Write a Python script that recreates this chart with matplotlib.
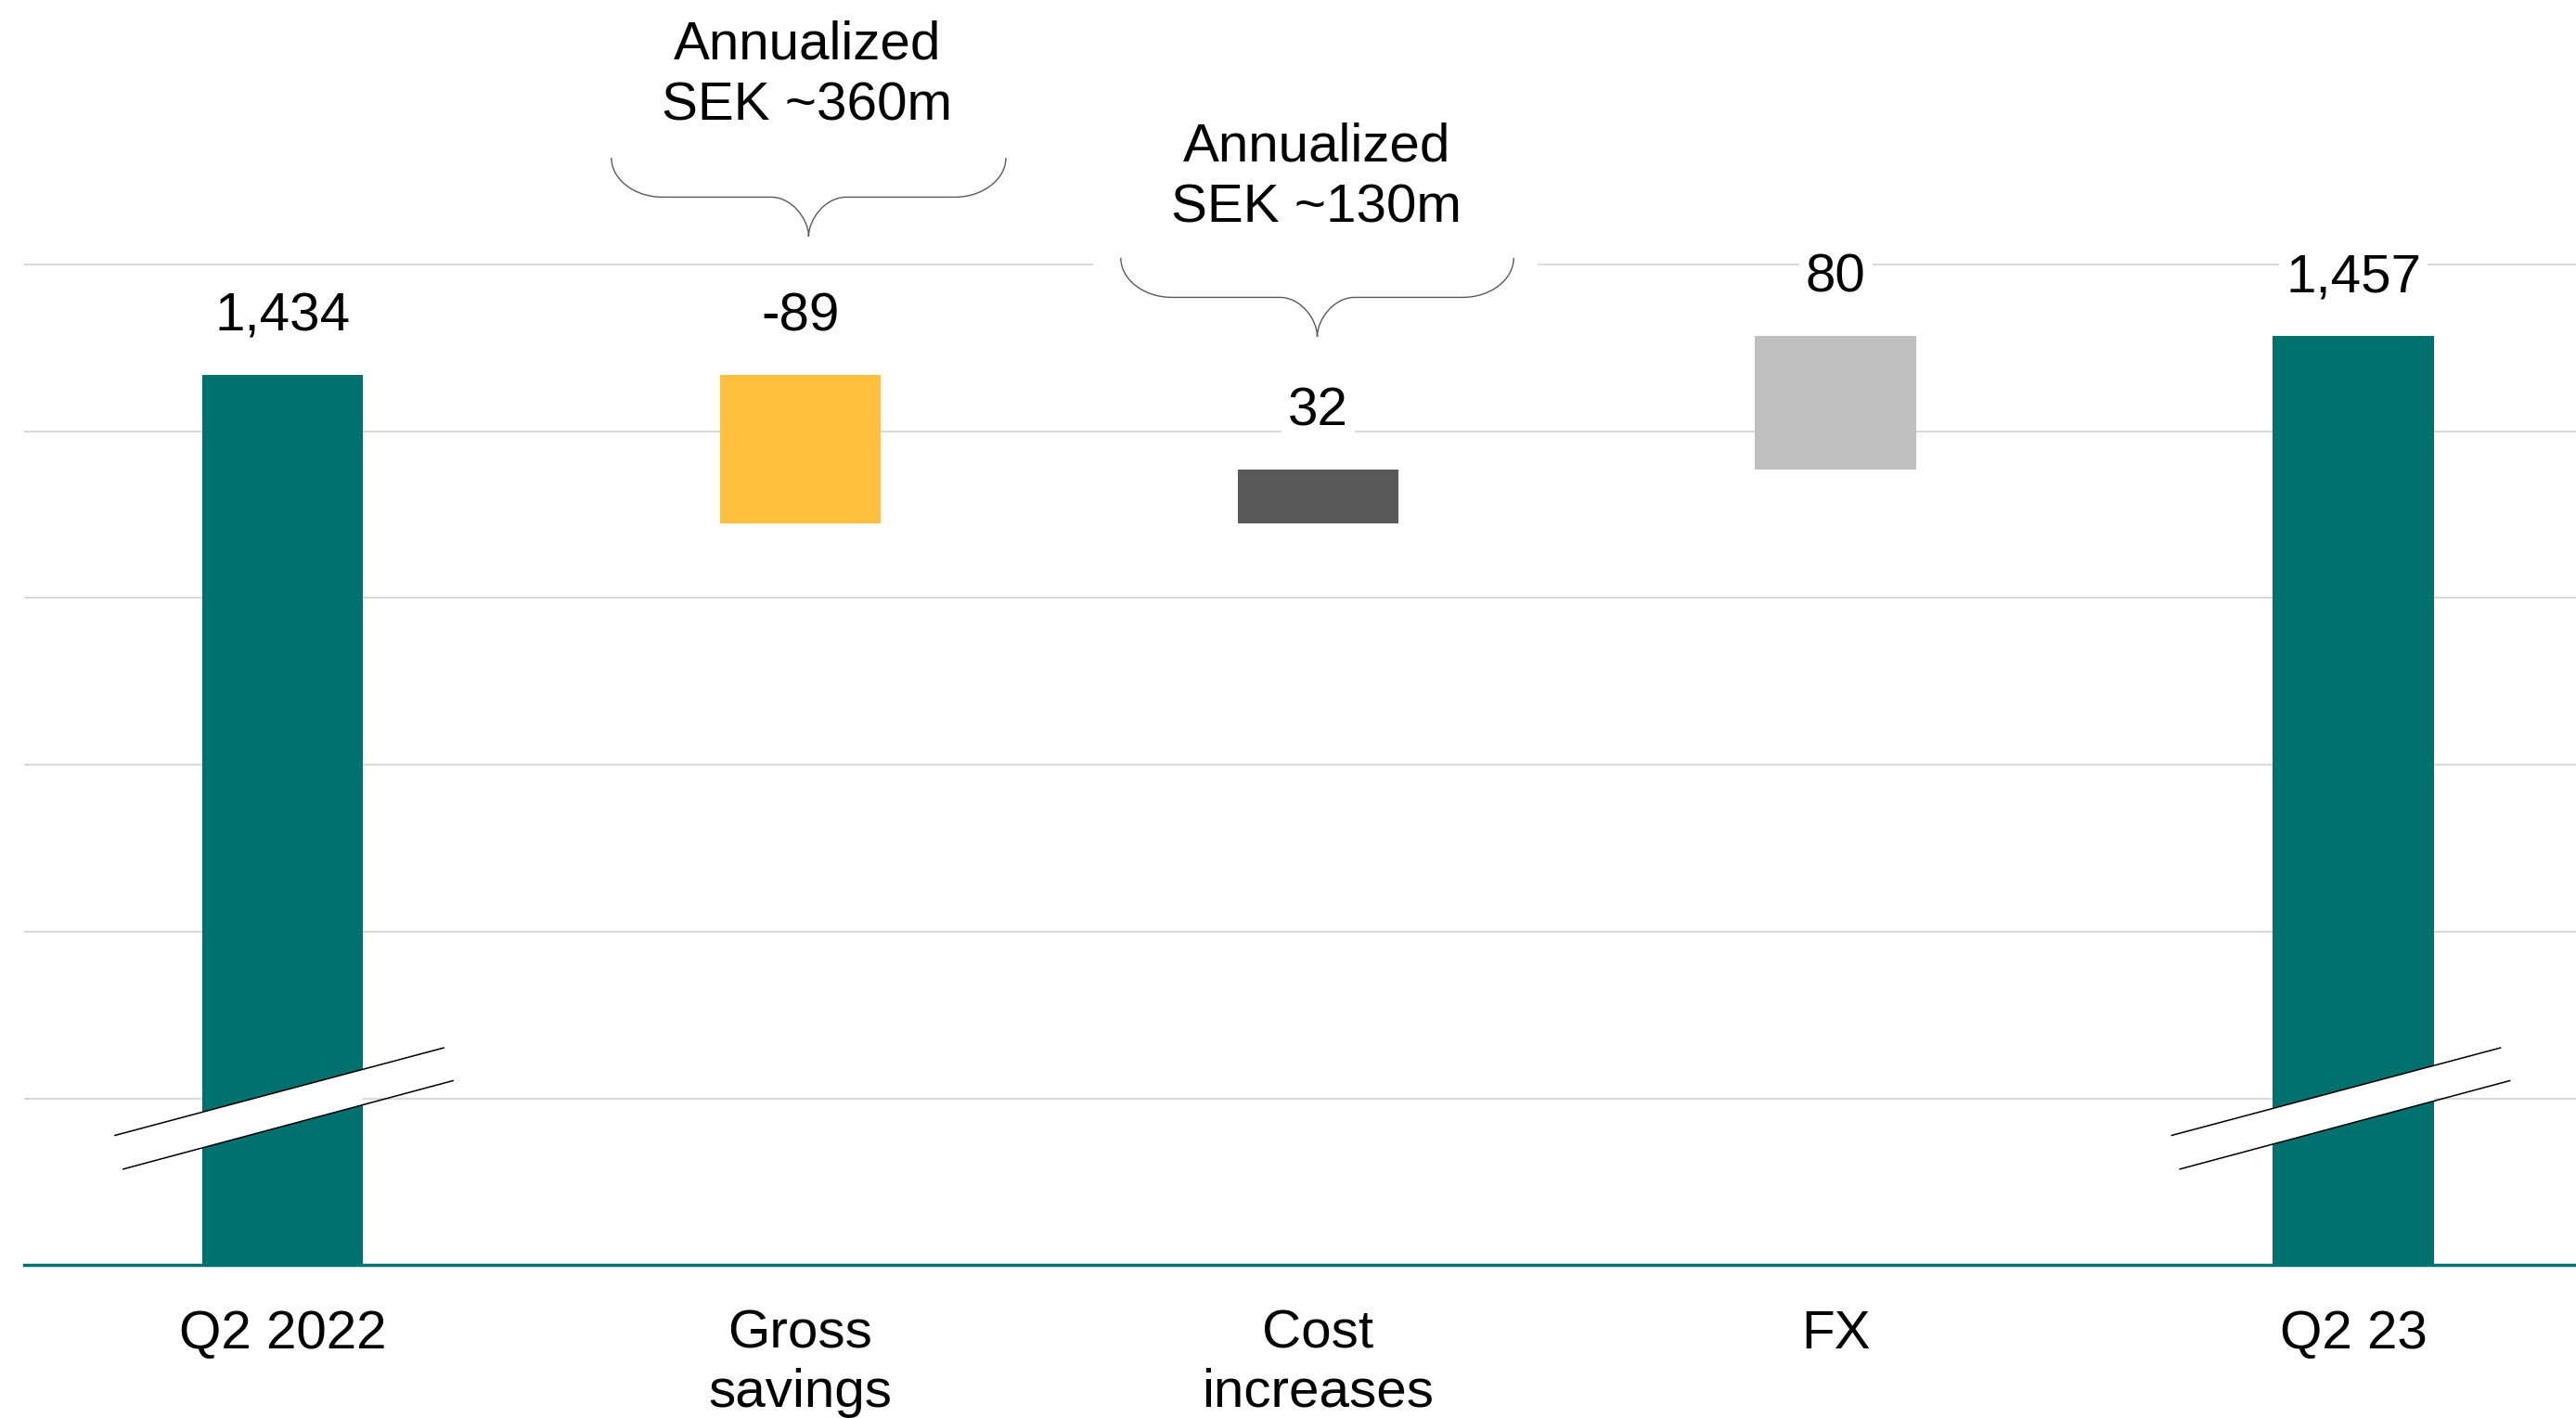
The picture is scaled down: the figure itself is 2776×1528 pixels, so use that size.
import matplotlib
matplotlib.use('Agg')
import matplotlib.pyplot as plt
from matplotlib.path import Path
from matplotlib.patches import PathPatch, Polygon, Rectangle

plt.rcParams['font.family'] = ['Liberation Sans', 'DejaVu Sans']

# data
categories = ['Q2 2022', 'Gross\nsavings', 'Cost\nincreases', 'FX', 'Q2 23']
values = [1434, -89, 32, 80, 1457]
value_labels = ['1,434', '-89', '32', '80', '1,457']
kinds = ['total', 'delta', 'delta', 'delta', 'total']
colors = ['#00716F', '#FFBF3F', '#595959', '#BFBFBF', '#00716F']
notes = ['Annualized\nSEK ~360m', 'Annualized\nSEK ~130m']

teal = '#00716F'
fs = 42

# waterfall geometry
bottoms, heights = [], []
running = 0
for v, k in zip(values, kinds):
    if k == 'total':
        bottoms.append(0)
        heights.append(v)
        running = v
    else:
        start = running
        running = running + v
        bottoms.append(min(start, running))
        heights.append(abs(v))

fig = plt.figure(figsize=(27.76, 15.28), dpi=100)
ax = fig.add_axes([0.00925, 0.1078, 1 - 0.00925, 1 - 0.1078])

x = list(range(len(categories)))
bars = ax.bar(x, heights, bottom=bottoms, width=0.311, color=colors, zorder=2)

ax.set_xlim(-0.5, 4.43)
ax.set_ylim(900, 1658.6)
ax.set_yticks(range(1000, 1600, 100))
ax.set_yticklabels([])
ax.tick_params(axis='y', length=0)
ax.grid(axis='y', color='#D9D9D9', lw=1.5)
ax.set_axisbelow(True)
for s in ['top', 'right', 'left']:
    ax.spines[s].set_visible(False)
ax.spines['bottom'].set_color(teal)
ax.spines['bottom'].set_linewidth(2.5)
ax.spines['bottom'].set_zorder(3)

ax.set_xticks(x, categories)
ax.tick_params(axis='x', length=0, pad=34, labelsize=fs)
for t in ax.get_xticklabels():
    t.set_linespacing(1.22)

# value labels
for i, (b, h, lbl) in enumerate(zip(bottoms, heights, value_labels)):
    ax.annotate(lbl, xy=(i, b + h), xytext=(0, 45), textcoords='offset points',
                ha='center', va='center', fontsize=fs, zorder=4,
                bbox=dict(boxstyle='square,pad=0.12', fc='white', ec='none'))


# axis break marks on the total bars
def axis_break(idx, shift):
    ux0, uy0, ux1, uy1 = -0.324 + shift, 977.8, 0.311 + shift, 1030.3
    lx0, ly0, lx1, ly1 = -0.308 + shift, 957.6, 0.329 + shift, 1010.6
    poly = Polygon([(idx + ux0, uy0), (idx + ux1, uy1), (idx + lx1, ly1), (idx + lx0, ly0)],
                   closed=True, fc='white', ec='none', zorder=3)
    ax.add_patch(poly)
    poly.set_clip_path(bars[idx])
    ax.plot([idx + ux0, idx + ux1], [uy0, uy1], color='black', lw=1.1, zorder=4)
    ax.plot([idx + lx0, idx + lx1], [ly0, ly1], color='black', lw=1.1, zorder=4)


axis_break(0, 0.0)
axis_break(4, -0.027)


# curly braces
def brace(x0, x1, ytop, ymid, ytip):
    xc = (x0 + x1) / 2
    c = 0.13 * (x1 - x0)
    r = 0.095 * (x1 - x0)
    k = 0.55
    verts = [
        (x0, ytop),
        (x0, ymid + (1 - k) * (ytop - ymid)), (x0 + (1 - k) * c, ymid), (x0 + c, ymid),
        (xc - r, ymid),
        (xc - (1 - k) * r, ymid), (xc, ytip + (1 - k) * (ymid - ytip)), (xc, ytip),
        (xc, ytip + (1 - k) * (ymid - ytip)), (xc + (1 - k) * r, ymid), (xc + r, ymid),
        (x1 - c, ymid),
        (x1 - (1 - k) * c, ymid), (x1, ymid + (1 - k) * (ytop - ymid)), (x1, ytop),
    ]
    codes = [Path.MOVETO,
             Path.CURVE4, Path.CURVE4, Path.CURVE4,
             Path.LINETO,
             Path.CURVE4, Path.CURVE4, Path.CURVE4,
             Path.CURVE4, Path.CURVE4, Path.CURVE4,
             Path.LINETO,
             Path.CURVE4, Path.CURVE4, Path.CURVE4]
    ax.add_patch(PathPatch(Path(verts, codes), fc='none', ec='#595959', lw=1.0,
                           zorder=4, clip_on=False))


# white backing behind the second note (hides the gridline)
ax.add_patch(Rectangle((1.565, 1493), 0.86, 75, fc='white', ec='none', zorder=1))

brace(0.635, 1.397, 1564, 1540.4, 1516.7)
brace(1.619, 2.378, 1504, 1480.3, 1456.7)

ax.text(1.013, 1646.5, notes[0], ha='center', va='top', fontsize=fs, linespacing=1.29)
ax.text(1.997, 1585.4, notes[1], ha='center', va='top', fontsize=fs, linespacing=1.29)

fig.savefig('out.png', dpi=100)
